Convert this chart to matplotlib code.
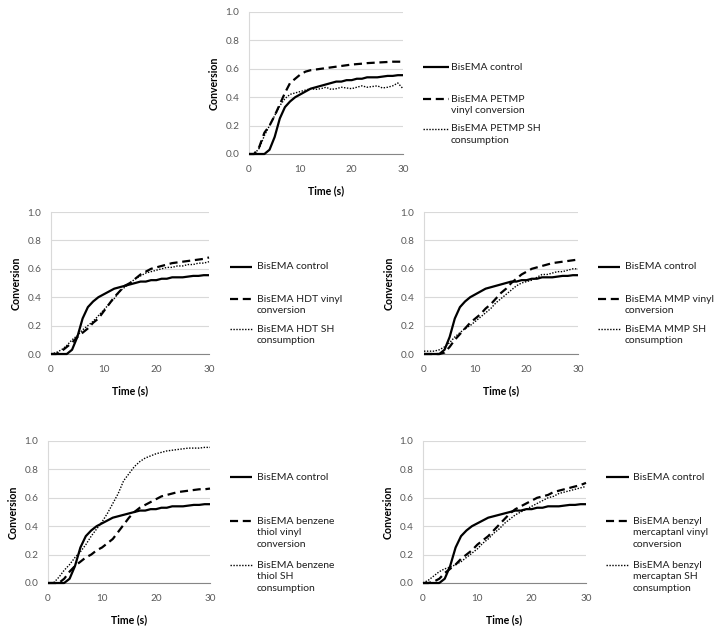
import matplotlib
matplotlib.use('Agg')
import matplotlib.pyplot as plt
from matplotlib.lines import Line2D

plt.rcParams['font.family'] = ['Lato', 'DejaVu Sans']
plt.rcParams['lines.scale_dashes'] = False

# ---------------- data ----------------
time_s = list(range(31))
control = [0, 0, 0, 0, 0.03, 0.12, 0.25, 0.33, 0.37, 0.40, 0.42, 0.44, 0.46, 0.47, 0.48, 0.49,
           0.50, 0.51, 0.51, 0.52, 0.52, 0.53, 0.53, 0.54, 0.54, 0.54, 0.545, 0.55, 0.55, 0.555, 0.555]

petmp_vinyl = [0, 0, 0.05, 0.15, 0.20, 0.27, 0.35, 0.43, 0.50, 0.53, 0.56, 0.58, 0.59, 0.595, 0.60, 0.605,
               0.61, 0.615, 0.62, 0.625, 0.63, 0.633, 0.636, 0.64, 0.642, 0.644, 0.646, 0.648, 0.65, 0.65, 0.65]
petmp_sh = [0, 0, 0.04, 0.13, 0.20, 0.27, 0.34, 0.39, 0.42, 0.43, 0.44, 0.45, 0.46, 0.455, 0.46, 0.47,
            0.455, 0.46, 0.47, 0.465, 0.46, 0.47, 0.48, 0.47, 0.475, 0.48, 0.465, 0.47, 0.48, 0.50, 0.46]

hdt_vinyl = [0, 0, 0.02, 0.05, 0.08, 0.12, 0.15, 0.18, 0.22, 0.25, 0.30, 0.35, 0.40, 0.44, 0.48, 0.50,
             0.53, 0.56, 0.58, 0.60, 0.61, 0.62, 0.63, 0.64, 0.645, 0.65, 0.655, 0.66, 0.665, 0.67, 0.68]
hdt_sh = [0, 0.01, 0.03, 0.06, 0.10, 0.13, 0.17, 0.20, 0.23, 0.27, 0.31, 0.35, 0.39, 0.44, 0.47, 0.50,
          0.53, 0.55, 0.57, 0.58, 0.59, 0.60, 0.61, 0.61, 0.62, 0.62, 0.63, 0.63, 0.64, 0.64, 0.65]

mmp_vinyl = [0, 0, 0, 0, 0.01, 0.05, 0.10, 0.14, 0.18, 0.22, 0.25, 0.28, 0.32, 0.35, 0.39, 0.43,
             0.46, 0.50, 0.53, 0.56, 0.58, 0.60, 0.61, 0.62, 0.63, 0.64, 0.645, 0.65, 0.655, 0.66, 0.665]
mmp_sh = [0.02, 0.02, 0.02, 0.03, 0.05, 0.08, 0.12, 0.15, 0.18, 0.20, 0.23, 0.26, 0.29, 0.32, 0.36, 0.39,
          0.42, 0.45, 0.48, 0.50, 0.51, 0.52, 0.54, 0.56, 0.56, 0.57, 0.58, 0.58, 0.59, 0.60, 0.60]

benz_vinyl = [0, 0, 0, 0.03, 0.08, 0.12, 0.15, 0.18, 0.20, 0.23, 0.25, 0.28, 0.31, 0.36, 0.41, 0.46,
              0.50, 0.53, 0.55, 0.57, 0.59, 0.61, 0.62, 0.63, 0.64, 0.645, 0.65, 0.655, 0.66, 0.66, 0.665]
benz_sh = [0, 0, 0.04, 0.09, 0.13, 0.18, 0.22, 0.27, 0.33, 0.38, 0.43, 0.49, 0.56, 0.63, 0.72, 0.77,
           0.82, 0.855, 0.88, 0.895, 0.91, 0.92, 0.93, 0.935, 0.94, 0.945, 0.95, 0.95, 0.95, 0.955, 0.955]

bzm_vinyl = [0, 0, 0.01, 0.03, 0.07, 0.10, 0.13, 0.17, 0.20, 0.23, 0.27, 0.30, 0.33, 0.37, 0.41, 0.45,
             0.49, 0.52, 0.54, 0.56, 0.58, 0.60, 0.61, 0.62, 0.64, 0.65, 0.66, 0.67, 0.68, 0.69, 0.705]
bzm_sh = [0, 0.02, 0.05, 0.08, 0.10, 0.11, 0.13, 0.15, 0.18, 0.21, 0.24, 0.28, 0.31, 0.35, 0.38, 0.42,
          0.45, 0.48, 0.50, 0.52, 0.54, 0.56, 0.58, 0.60, 0.61, 0.63, 0.64, 0.65, 0.66, 0.67, 0.68]

labels_petmp = ["BisEMA control", "BisEMA PETMP\nvinyl conversion", "BisEMA PETMP SH\nconsumption"]
labels_hdt = ["BisEMA control", "BisEMA HDT vinyl\nconversion", "BisEMA HDT SH\nconsumption"]
labels_mmp = ["BisEMA control", "BisEMA MMP vinyl\nconversion", "BisEMA MMP SH\nconsumption"]
labels_benz = ["BisEMA control", "BisEMA benzene\nthiol vinyl\nconversion", "BisEMA benzene\nthiol SH\nconsumption"]
labels_bzm = ["BisEMA control", "BisEMA benzyl\nmercaptanl vinyl\nconversion", "BisEMA benzyl\nmercaptan SH\nconsumption"]

x_ticks = [0, 10, 20, 30]
y_ticks = [0.0, 0.2, 0.4, 0.6, 0.8, 1.0]
x_label = "Time (s)"
y_label = "Conversion"

# ---------------- layout ----------------
W, H = 714, 631
fig = plt.figure(figsize=(W / 100, H / 100), dpi=100)


def px_rect(l, t, r, b):
    return [l / W, 1 - b / H, (r - l) / W, (b - t) / H]


panels = [
    dict(rect=(249, 12, 403, 154), vinyl=petmp_vinyl, sh=petmp_sh, labels=labels_petmp,
         leg=(423, 449, 451, [67, 99, 129])),
    dict(rect=(51, 212, 209, 354), vinyl=hdt_vinyl, sh=hdt_sh, labels=labels_hdt,
         leg=(230, 252, 257, [267, 299, 329])),
    dict(rect=(424, 212, 578, 354), vinyl=mmp_vinyl, sh=mmp_sh, labels=labels_mmp,
         leg=(598, 620, 625, [267, 299, 329])),
    dict(rect=(48, 441, 210, 583), vinyl=benz_vinyl, sh=benz_sh, labels=labels_benz,
         leg=(230, 252, 257, [477, 521, 565])),
    dict(rect=(423, 441, 586, 583), vinyl=bzm_vinyl, sh=bzm_sh, labels=labels_bzm,
         leg=(606, 629, 633, [477, 521, 565])),
]

styles = [
    dict(color='black', lw=1.6, linestyle='-'),
    dict(color='black', lw=1.6, dashes=(5.8, 3.4)),
    dict(color='black', lw=1.0, dashes=(1.0, 1.1)),
]

for p in panels:
    ax = fig.add_axes(px_rect(*p['rect']))
    series = [control, p['vinyl'], p['sh']]
    for s, st in zip(series, styles):
        ax.plot(time_s, s, clip_on=False, zorder=3, solid_capstyle='butt', dash_capstyle='butt', **st)
    ax.set_xlim(0, 30)
    ax.set_ylim(0, 1)
    ax.set_xticks(x_ticks)
    ax.set_yticks(y_ticks)
    ax.set_yticklabels([f"{v:.1f}" for v in y_ticks])
    ax.grid(axis='y', color='#d9d9d9', lw=0.8)
    ax.set_axisbelow(True)
    for sp in ['top', 'right']:
        ax.spines[sp].set_visible(False)
    ax.spines['left'].set_color('#d9d9d9')
    ax.spines['bottom'].set_color('#868686')
    ax.spines['left'].set_linewidth(0.8)
    ax.spines['bottom'].set_linewidth(0.8)
    ax.tick_params(length=0, labelsize=7.2, labelcolor='#595959')
    ax.tick_params(axis='y', pad=7)
    ax.tick_params(axis='x', pad=8)
    ax.set_xlabel(x_label, fontsize=7.6, fontweight='bold', labelpad=8)
    ax.set_ylabel(y_label, fontsize=7.6, fontweight='bold', labelpad=4)

    x0, x1, xt, ys = p['leg']
    for lab, st, yc in zip(p['labels'], styles, ys):
        fig.add_artist(Line2D([x0 / W, x1 / W], [1 - yc / H, 1 - yc / H], transform=fig.transFigure,
                              solid_capstyle='butt', dash_capstyle='butt', **st))
        fig.text(xt / W, 1 - (yc - 4.5) / H, lab, fontsize=7.5, va='top', ha='left',
                 color='#1e1e1e', linespacing=1.4)

fig.savefig('out.png', dpi=100)
